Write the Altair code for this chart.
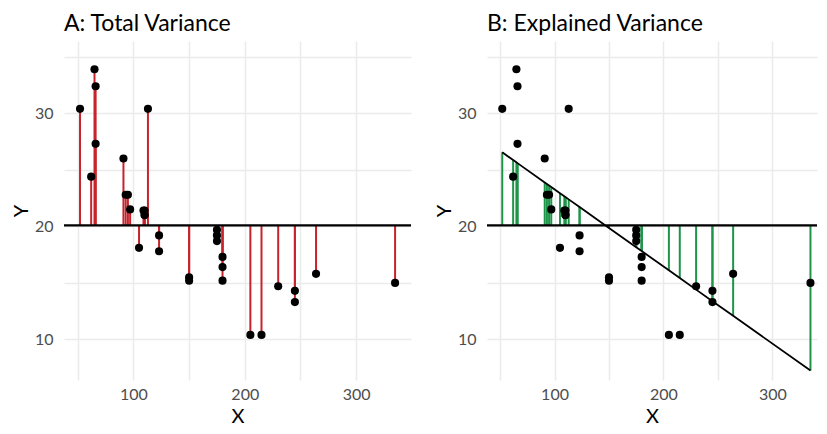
import altair as alt
import pandas as pd

# mtcars-like values: X (horsepower), Y (mpg)
x_vals = [110, 110, 93, 110, 175, 105, 245, 62, 95, 123, 123, 180, 180, 180,
          205, 215, 230, 66, 52, 65, 97, 150, 150, 245, 175, 66, 91, 113,
          264, 175, 335, 109]
y_vals = [21.0, 21.0, 22.8, 21.4, 18.7, 18.1, 14.3, 24.4, 22.8, 19.2, 17.8,
          16.4, 17.3, 15.2, 10.4, 10.4, 14.7, 32.4, 30.4, 33.9, 21.5, 15.5,
          15.2, 13.3, 19.2, 27.3, 26.0, 30.4, 15.8, 19.7, 15.0, 21.4]

x_grid = [50, 100, 150, 200, 250, 300]
y_grid = [10, 15, 20, 25, 30, 35]

df = pd.DataFrame({"x": x_vals, "y": y_vals})

FONT = "Lato"
RED = "#C8232C"
GREEN = "#1E9448"

y_scale = alt.Scale(domain=[6.41, 36.4], nice=False, zero=False)


def x_axis():
    return alt.Axis(values=x_grid, labelExpr="datum.value % 100 == 0 ? datum.label : ''",
                    title="X", grid=True, ticks=False, domain=False, labelPadding=6,
                    titlePadding=4)


def y_axis():
    return alt.Axis(values=y_grid, labelExpr="datum.value % 10 == 0 ? datum.label : ''",
                    title="Y", grid=True, ticks=False, domain=False, labelPadding=11,
                    titlePadding=3)


def stats(base):
    return (base
            .transform_joinaggregate(mx="mean(x)", my="mean(y)")
            .transform_calculate(dxdy="(datum.x-datum.mx)*(datum.y-datum.my)",
                                 dxx="(datum.x-datum.mx)*(datum.x-datum.mx)")
            .transform_joinaggregate(sxy="sum(dxdy)", sxx="sum(dxx)")
            .transform_calculate(fit="datum.my + datum.sxy/datum.sxx*(datum.x-datum.mx)"))


def title(text):
    return alt.TitleParams(text, anchor="start", frame="group", fontSize=23, font=FONT,
                           fontWeight="normal", color="black", offset=5)


# Panel A
xa = alt.Scale(domain=[37.6, 349.3], nice=False, zero=False)
baseA = stats(alt.Chart(df))
segA = baseA.mark_rule(color=RED, strokeWidth=2).encode(
    x=alt.X("x:Q", scale=xa, axis=x_axis()),
    y=alt.Y("my:Q", scale=y_scale, axis=y_axis()),
    y2="y:Q",
)
hA = baseA.mark_rule(color="black", strokeWidth=2.2).encode(
    y=alt.Y("mean(y):Q", scale=y_scale))
ptsA = baseA.mark_circle(color="black", opacity=1, size=66).encode(
    x=alt.X("x:Q", scale=xa), y=alt.Y("y:Q", scale=y_scale))
panelA = alt.layer(segA, hA, ptsA).properties(
    width=347, height=339, title=title("A: Total Variance"))

# Panel B
xb = alt.Scale(domain=[38.0, 341.0], nice=False, zero=False)
baseB = stats(alt.Chart(df))
segB = baseB.mark_rule(color=GREEN, strokeWidth=2).encode(
    x=alt.X("x:Q", scale=xb, axis=x_axis()),
    y=alt.Y("my:Q", scale=y_scale, axis=y_axis()),
    y2="fit:Q",
)
hB = baseB.mark_rule(color="black", strokeWidth=2.2).encode(
    y=alt.Y("mean(y):Q", scale=y_scale))
lineB = baseB.mark_line(color="black", strokeWidth=1.8).encode(
    x=alt.X("x:Q", scale=xb, sort="ascending"), y=alt.Y("fit:Q", scale=y_scale))
ptsB = baseB.mark_circle(color="black", opacity=1, size=66).encode(
    x=alt.X("x:Q", scale=xb), y=alt.Y("y:Q", scale=y_scale))
panelB = alt.layer(segB, hB, lineB, ptsB).properties(
    width=330, height=339, title=title("B: Explained Variance"))

chart = (alt.hconcat(panelA, panelB, spacing=21)
         .properties(padding={"left": 3, "top": 5, "right": 0, "bottom": 0},
                     background="white")
         .configure_view(stroke=None)
         .configure_axis(gridColor="#EBEBEB", gridWidth=1.5, labelFont=FONT,
                         labelFontSize=16, labelColor="#4D4D4D", titleFont=FONT,
                         titleFontSize=20, titleFontWeight="normal", titleColor="black"))

chart.save("out.html", embed_options={"renderer": "svg", "actions": False})
